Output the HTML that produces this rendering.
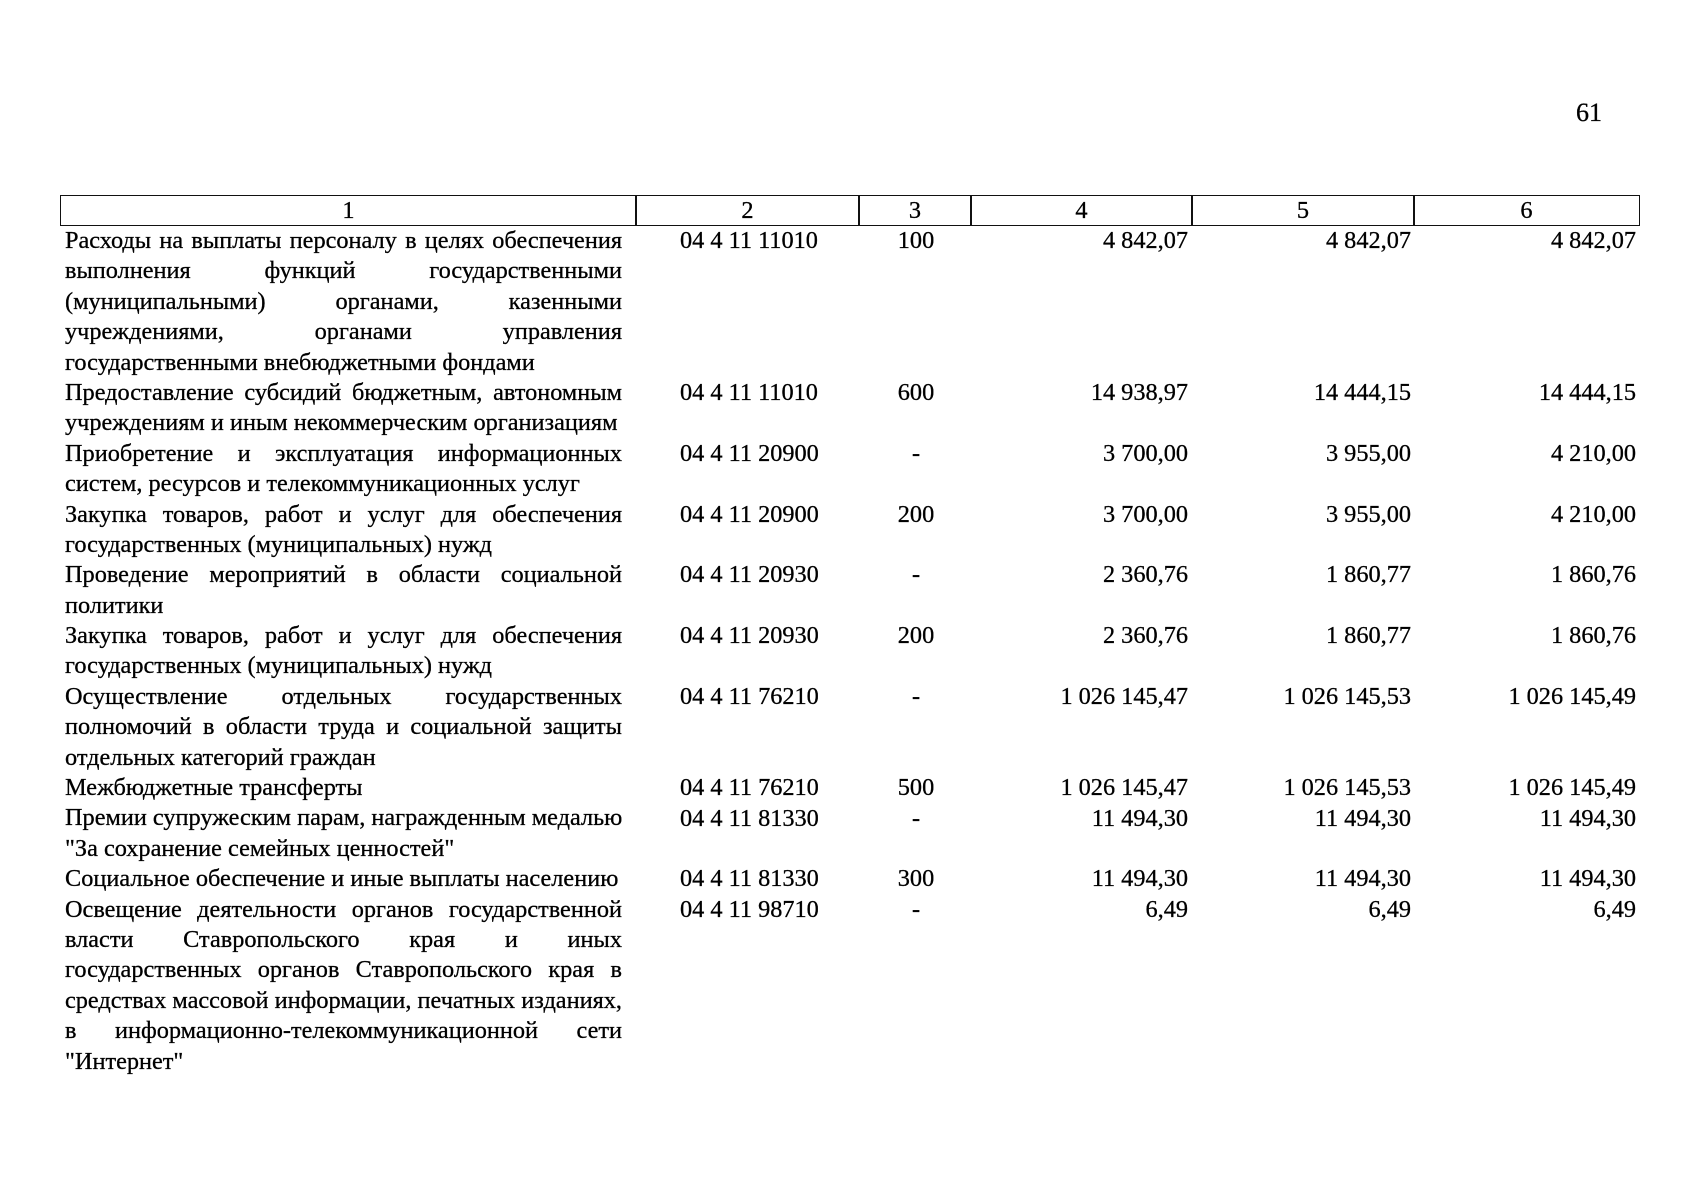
<!DOCTYPE html>
<html><head><meta charset="utf-8"><style>
body{margin:0;width:1694px;height:1200px;background:#fff;position:relative;overflow:hidden;font-family:"Liberation Serif","DejaVu Serif",serif;font-size:24.3px;color:#000;-webkit-text-stroke:0.3px #000;}
.a{position:absolute;line-height:30.4px;white-space:nowrap;}
.t{position:absolute;left:65px;width:557px;line-height:30.4px;}
.t div{text-align:justify;text-align-last:justify;white-space:nowrap;height:30.4px}
.t div.l{text-align-last:left}
.c2{left:680px}
.c3{left:876px;width:80px;text-align:center}
.c4{right:506px;text-align:right}
.c5{right:283px;text-align:right}
.c6{right:58px;text-align:right}
.hd{position:absolute;top:195px;height:31px;border:1.5px solid #111;box-sizing:border-box;text-align:center;line-height:29px;}
</style></head><body>
<div class="a" style="left:1576px;top:98px;font-size:26px">61</div>
<div class="hd" style="left:60px;width:577px">1</div>
<div class="hd" style="left:635px;width:225px">2</div>
<div class="hd" style="left:858px;width:114px">3</div>
<div class="hd" style="left:970px;width:223px">4</div>
<div class="hd" style="left:1191px;width:224px">5</div>
<div class="hd" style="left:1413px;width:227px">6</div>

<div class="t" style="top:226px">
<div>Расходы на выплаты персоналу в целях обеспечения</div>
<div>выполнения функций государственными</div>
<div>(муниципальными) органами, казенными</div>
<div>учреждениями, органами управления</div>
<div class="l">государственными внебюджетными фондами</div>
<div>Предоставление субсидий бюджетным, автономным</div>
<div class="l">учреждениям и иным некоммерческим организациям</div>
<div>Приобретение и эксплуатация информационных</div>
<div class="l">систем, ресурсов и телекоммуникационных услуг</div>
<div>Закупка товаров, работ и услуг для обеспечения</div>
<div class="l">государственных (муниципальных) нужд</div>
<div>Проведение мероприятий в области социальной</div>
<div class="l">политики</div>
<div>Закупка товаров, работ и услуг для обеспечения</div>
<div class="l">государственных (муниципальных) нужд</div>
<div>Осуществление отдельных государственных</div>
<div>полномочий в области труда и социальной защиты</div>
<div class="l">отдельных категорий граждан</div>
<div class="l">Межбюджетные трансферты</div>
<div>Премии супружеским парам, награжденным медалью</div>
<div class="l">"За сохранение семейных ценностей"</div>
<div class="l">Социальное обеспечение и иные выплаты населению</div>
<div>Освещение деятельности органов государственной</div>
<div>власти Ставропольского края и иных</div>
<div>государственных органов Ставропольского края в</div>
<div>средствах массовой информации, печатных изданиях,</div>
<div>в информационно-телекоммуникационной сети</div>
<div class="l">"Интернет"</div>
</div>

<div class="a c2" style="top:226px">04 4 11 11010</div><div class="a c3" style="top:226px">100</div><div class="a c4" style="top:226px">4 842,07</div><div class="a c5" style="top:226px">4 842,07</div><div class="a c6" style="top:226px">4 842,07</div>
<div class="a c2" style="top:378px">04 4 11 11010</div><div class="a c3" style="top:378px">600</div><div class="a c4" style="top:378px">14 938,97</div><div class="a c5" style="top:378px">14 444,15</div><div class="a c6" style="top:378px">14 444,15</div>
<div class="a c2" style="top:438.8px">04 4 11 20900</div><div class="a c3" style="top:438.8px">-</div><div class="a c4" style="top:438.8px">3 700,00</div><div class="a c5" style="top:438.8px">3 955,00</div><div class="a c6" style="top:438.8px">4 210,00</div>
<div class="a c2" style="top:499.6px">04 4 11 20900</div><div class="a c3" style="top:499.6px">200</div><div class="a c4" style="top:499.6px">3 700,00</div><div class="a c5" style="top:499.6px">3 955,00</div><div class="a c6" style="top:499.6px">4 210,00</div>
<div class="a c2" style="top:560.4px">04 4 11 20930</div><div class="a c3" style="top:560.4px">-</div><div class="a c4" style="top:560.4px">2 360,76</div><div class="a c5" style="top:560.4px">1 860,77</div><div class="a c6" style="top:560.4px">1 860,76</div>
<div class="a c2" style="top:621.2px">04 4 11 20930</div><div class="a c3" style="top:621.2px">200</div><div class="a c4" style="top:621.2px">2 360,76</div><div class="a c5" style="top:621.2px">1 860,77</div><div class="a c6" style="top:621.2px">1 860,76</div>
<div class="a c2" style="top:682px">04 4 11 76210</div><div class="a c3" style="top:682px">-</div><div class="a c4" style="top:682px">1 026 145,47</div><div class="a c5" style="top:682px">1 026 145,53</div><div class="a c6" style="top:682px">1 026 145,49</div>
<div class="a c2" style="top:773.2px">04 4 11 76210</div><div class="a c3" style="top:773.2px">500</div><div class="a c4" style="top:773.2px">1 026 145,47</div><div class="a c5" style="top:773.2px">1 026 145,53</div><div class="a c6" style="top:773.2px">1 026 145,49</div>
<div class="a c2" style="top:803.6px">04 4 11 81330</div><div class="a c3" style="top:803.6px">-</div><div class="a c4" style="top:803.6px">11 494,30</div><div class="a c5" style="top:803.6px">11 494,30</div><div class="a c6" style="top:803.6px">11 494,30</div>
<div class="a c2" style="top:864.4px">04 4 11 81330</div><div class="a c3" style="top:864.4px">300</div><div class="a c4" style="top:864.4px">11 494,30</div><div class="a c5" style="top:864.4px">11 494,30</div><div class="a c6" style="top:864.4px">11 494,30</div>
<div class="a c2" style="top:894.8px">04 4 11 98710</div><div class="a c3" style="top:894.8px">-</div><div class="a c4" style="top:894.8px">6,49</div><div class="a c5" style="top:894.8px">6,49</div><div class="a c6" style="top:894.8px">6,49</div>
</body></html>
